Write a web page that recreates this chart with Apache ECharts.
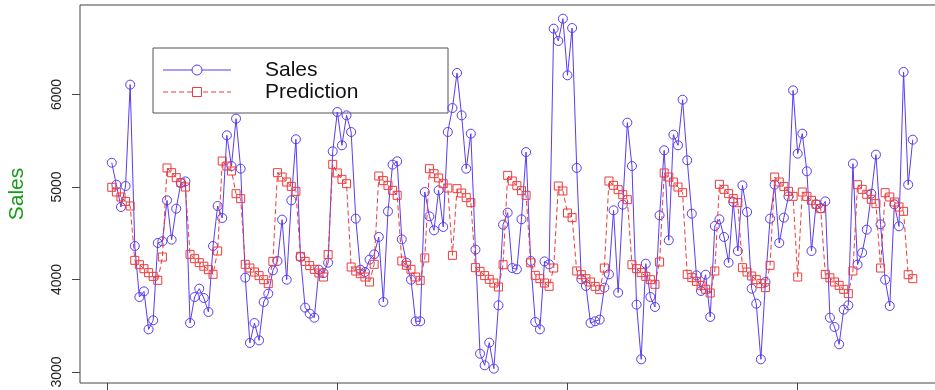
<!DOCTYPE html>
<html>
<head>
<meta charset="utf-8">
<script src="https://cdn.jsdelivr.net/npm/echarts@6/dist/echarts.min.js"></script>
<style>
  html, body { margin: 0; padding: 0; background: #fff; }
  #chart { width: 935px; height: 390px; }
</style>
</head>
<body>
<div id="chart"></div>
<script>
// Observed sales, one value per period (periods numbered from 1)
const sales = [
  5263, 5025, 4784, 5011, 6107, 4362, 3811, 3872, 3461, 3559,
  4395, 4413, 4856, 4431, 4766, 5043, 5061, 3530, 3811, 3901,
  3800, 3649, 4362, 4795, 4665, 5559, 5227, 5739, 5198, 4020,
  3314, 3530, 3342, 3757, 3847, 4099, 4200, 4647, 3998, 4856,
  5516, 4243, 3696, 3631, 3587, 4106, 4070, 4182, 5386, 5811,
  5451, 5775, 5595, 4658, 4106, 4081, 4215, 4272, 4460, 3757,
  4737, 5242, 5278, 4434, 4182, 3998, 3548, 3548, 4946, 4683,
  4532, 4964, 4568, 5595, 5854, 6233, 5775, 5198, 5577, 4323,
  3198, 3072, 3317, 3036, 3721, 4593, 4723, 4124, 4110, 4651,
  5378, 4200, 3541, 3461, 4196, 4164, 6712, 6579, 6820, 6208,
  6719, 5206, 4002, 3930, 3530, 3548, 3566, 3912, 4056, 4748,
  3858, 4809, 5696, 5227, 3728, 3137, 4171, 3811, 3703, 4694,
  5397, 4424, 5566, 5451, 5944, 5289, 4712, 4045, 3876, 4052,
  3595, 4579, 4651, 4460, 4182, 4838, 4308, 5018, 4730, 3901,
  3739, 3137, 3973, 4658, 5025, 4395, 4669, 4899, 6045, 5361,
  5577, 5170, 4308, 4813, 4770, 4845, 3587, 3487, 3299, 3674,
  3721, 5253, 4160, 4290, 4539, 4928, 5350, 4597, 3998, 3714,
  4813, 4575, 6244, 5025, 5512
];

// Model prediction for the same periods
const prediction = [
  4997, 4946, 4892, 4845, 4795, 4207, 4160, 4117, 4074, 4034,
  3991, 4243, 5206, 5155, 5101, 5047, 5000, 4272, 4225, 4182,
  4144, 4106, 4056, 4308, 5281, 5227, 5173, 4928, 4874, 4164,
  4124, 4081, 4042, 3998, 3955, 4196, 5155, 5108, 5054, 5007,
  4953, 4250, 4196, 4150, 4110, 4070, 4027, 4269, 5245, 5152,
  5083, 5036, 4135, 4092, 4063, 4027, 3973, 4164, 5119, 5069,
  5018, 4964, 4910, 4200, 4153, 4110, 4027, 3991, 4233, 5198,
  5144, 5098, 5036, 4989, 4261, 4982, 4935, 4885, 4831, 4128,
  4088, 4042, 4002, 3962, 3919, 4160, 5126, 5065, 5015, 4960,
  4910, 4180, 4045, 4009, 3962, 3926, 4124, 5011, 4957, 4719,
  4669, 4092, 4052, 4009, 3973, 3926, 3890, 4124, 5065, 5018,
  4971, 4917, 4863, 4160, 4117, 4074, 4034, 3998, 3948, 4189,
  5152, 5108, 5054, 5000, 4939, 4056, 4020, 3980, 3937, 3894,
  3854, 4092, 5029, 4975, 4928, 4874, 4831, 4128, 4081, 4038,
  3998, 3955, 3912, 4153, 5108, 5054, 5007, 4953, 4899, 4027,
  4946, 4899, 4856, 4813, 4766, 4056, 4018, 3973, 3937, 3894,
  3847, 4092, 5025, 4975, 4921, 4867, 4820, 4124, 4939, 4892,
  4838, 4784, 4737, 4052, 4009
];

// Tick positions
const xTicks = [0, 50, 100, 150];
const yTicks = [3000, 4000, 5000, 6000];

const legendNames = ['Sales', 'Prediction'];

const SALES_COLOR = '#5a3cf2';
const PRED_COLOR = '#ef3b3b';
const FONT = '"Liberation Sans", Arial, Helvetica, sans-serif';

const toPairs = arr => arr.map((v, i) => [i + 1, v]);

const chart = echarts.init(document.getElementById('chart'), null, { renderer: 'canvas' });

chart.setOption({
  animation: false,
  backgroundColor: '#fff',
  grid: {
    left: 80, top: 5, width: 865, height: 378,
    outerBoundsMode: 'none',
    containLabel: false,
    show: true, borderColor: '#444', borderWidth: 1,
    backgroundColor: 'transparent'
  },
  xAxis: {
    type: 'value',
    min: -5.9, max: 182,
    axisLine: { show: false, onZero: false },
    splitLine: { show: false },
    axisTick: { show: true, customValues: xTicks, length: 8, lineStyle: { color: '#444' } },
    axisLabel: { show: false, customValues: xTicks }
  },
  yAxis: {
    type: 'value',
    min: 2881, max: 6968,
    name: 'Sales',
    nameLocation: 'middle',
    nameGap: 52,
    nameRotate: 90,
    nameTextStyle: { color: '#169b16', fontSize: 21, fontFamily: FONT },
    axisLine: { show: false, onZero: false },
    splitLine: { show: false },
    axisTick: { show: true, customValues: yTicks, length: 8, lineStyle: { color: '#444' } },
    axisLabel: {
      customValues: yTicks, rotate: 90, margin: 16,
      color: '#222', fontSize: 14, fontFamily: FONT,
      formatter: v => String(v)
    }
  },
  series: [
    {
      name: legendNames[0],
      type: 'line',
      data: toPairs(sales),
      symbol: 'circle',
      symbolSize: 9,
      lineStyle: { color: SALES_COLOR, width: 1 },
      itemStyle: { color: 'rgba(255,255,255,0)', borderColor: SALES_COLOR, borderWidth: 1 },
      z: 2
    },
    {
      name: legendNames[1],
      type: 'line',
      data: toPairs(prediction),
      symbol: 'rect',
      symbolSize: 8,
      lineStyle: { color: PRED_COLOR, width: 1, type: [5, 3] },
      itemStyle: { color: 'rgba(255,255,255,0)', borderColor: PRED_COLOR, borderWidth: 1 },
      z: 3
    }
  ],
  graphic: [
    {
      type: 'group', z: 100,
      children: [
        { type: 'rect', shape: { x: 153, y: 48, width: 295, height: 65 },
          style: { fill: '#fff', stroke: '#555', lineWidth: 1 } },
        { type: 'line', shape: { x1: 163, y1: 70, x2: 231, y2: 70 },
          style: { stroke: SALES_COLOR, lineWidth: 1 } },
        { type: 'circle', shape: { cx: 197, cy: 70, r: 5 },
          style: { fill: '#fff', stroke: SALES_COLOR, lineWidth: 1 } },
        { type: 'line', shape: { x1: 163, y1: 92, x2: 231, y2: 92 },
          style: { stroke: PRED_COLOR, lineWidth: 1, lineDash: [5, 3] } },
        { type: 'rect', shape: { x: 192.5, y: 87.5, width: 9, height: 9 },
          style: { fill: '#fff', stroke: PRED_COLOR, lineWidth: 1 } },
        { type: 'text', x: 265, y: 70,
          style: { text: legendNames[0], fill: '#111', font: '21px ' + FONT, verticalAlign: 'middle' } },
        { type: 'text', x: 265, y: 92,
          style: { text: legendNames[1], fill: '#111', font: '21px ' + FONT, verticalAlign: 'middle' } }
      ]
    }
  ]
});
</script>
</body>
</html>
